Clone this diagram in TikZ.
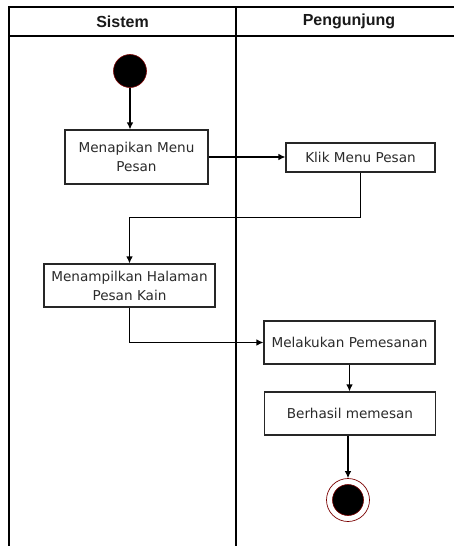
\documentclass[tikz,border=0pt]{standalone}
\usepackage{fontspec}
\setmainfont{DejaVu Sans}
\newfontfamily\headfont{Liberation Sans}
\usetikzlibrary{arrows.meta}
\definecolor{txt}{HTML}{2A2A2A}
\definecolor{ring}{HTML}{7A0000}
\tikzset{
  lane/.style={line width=1.4pt, black},
  actbox/.style={draw=black!85, line width=1.1pt, rectangle, inner sep=0pt, align=center,
     text=txt, font=\fontsize{13.6}{19}\selectfont},
  flow/.style={line width=1.1pt, -{Latex[length=7pt,width=6.5pt]}},
  headtxt/.style={font=\headfont\bfseries\fontsize{16}{18}\selectfont, text=black!90}
}
\begin{document}
\begin{tikzpicture}[x=1pt,y=-1pt]
\useasboundingbox (0,0) rectangle (454,546);
% swimlane frame
\draw[lane] (9,546) -- (9,7) -- (454,7);
\draw[lane] (9,36) -- (454,36);
\draw[lane] (236,7) -- (236,546);
\node[headtxt] (h1) at (122.5,21.5) {Sistem};
\node[headtxt] (h2) at (349,21.5) {Pengunjung};
% start
\node[circle, fill=black, draw=ring, line width=0.6pt, minimum size=33pt, inner sep=0pt] (start) at (130,71) {};
% activities
\node[actbox, minimum width=143pt, minimum height=54pt] (b1) at (136.5,157) {Menapikan Menu\\Pesan};
\node[actbox, minimum width=149pt, minimum height=29pt] (b2) at (360.5,157.5) {Klik Menu Pesan};
\node[actbox, minimum width=171pt, minimum height=43pt] (b3) at (129.5,285.5) {Menampilkan Halaman\\Pesan Kain};
\node[actbox, minimum width=171pt, minimum height=43pt] (b4) at (349.5,342.5) {Melakukan Pemesanan};
\node[actbox, minimum width=171pt, minimum height=43pt] (b5) at (350,413.5) {Berhasil memesan};
% end
\node[circle, draw=ring, line width=0.7pt, fill=white, minimum size=43pt, inner sep=0pt] (end) at (348,500) {};
\node[circle, fill=black, draw=ring, line width=0.6pt, minimum size=31pt, inner sep=0pt] (endin) at (end.center) {};
% flows
\draw[flow] (start.south) -- (start.south |- b1.north);
\draw[flow] (b1.east) -- (b1.east -| b2.west);
\draw[flow] (b2.south) -- ++(0,45) -| (b3.north);
\draw[flow] (b3.south) |- (b4.west);
\draw[flow] (b4.south) -- (b4.south |- b5.north);
\draw[flow] (b5.south -| end.north) -- (end.north);
\end{tikzpicture}
\end{document}
